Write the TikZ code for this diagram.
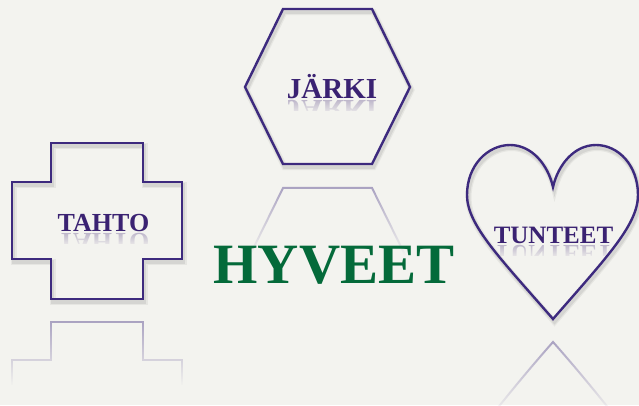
\documentclass[tikz,border=0pt]{standalone}
\usepackage{fontspec}
\setmainfont{Liberation Serif}
\usetikzlibrary{fadings}
\definecolor{bg}{HTML}{F3F3EF}
\definecolor{lin}{HTML}{3D2A7E}
\definecolor{txt}{HTML}{3A2272}
\definecolor{grn}{HTML}{046A3A}
\tikzfading[name=fadeout, top color=transparent!0, bottom color=transparent!100]
\tikzfading[name=fadein, top color=transparent!100, bottom color=transparent!0]
\begin{document}
\begin{tikzpicture}[x=1pt,y=-1pt,
  shapeline/.style={draw=lin, line width=2.4pt, line join=miter},
  shadowa/.style={draw=black, opacity=0.05, line width=6pt},
  shadowb/.style={draw=black, opacity=0.07, line width=3.5pt},
  refl/.style={draw=lin, opacity=0.4, line width=2pt},
  lbl/.style={text=txt, font=\bfseries\fontsize{#1}{#1}\selectfont, inner sep=0pt, anchor=base},
  mirror/.style={lbl=#1, opacity=0.3, transform shape, yscale=-1},
  cover/.style={fill=bg, path fading=fadein},
  solidcover/.style={fill=bg}]
\fill[bg] (0,0) rectangle (639,405);
\useasboundingbox (0,0) rectangle (639,405);

% text reflections
\node[mirror=29] (jarkiR) at (332,100) {JÄRKI};
\fill[cover] (283,99) rectangle (382,115);
\fill[solidcover] (283,111) rectangle (382,128);
\node[mirror=26] (tahtoR) at (103.5,233) {TAHTO};
\fill[cover] (54,232) rectangle (153,247);
\fill[solidcover] (54,243.5) rectangle (153,260);
\node[mirror=25] (tunteetR) at (553.5,245) {TUNTEET};
\fill[cover] (488,244) rectangle (619,259);
\fill[solidcover] (488,255.5) rectangle (619,272);

% shape reflections
\draw[refl, path fading=fadeout] (250,255) -- (283,188) -- (372,188) -- (405,255);
\draw[refl, path fading=fadeout] (12,385) -- (12,360) -- (51,360) -- (51,322) -- (143,322) -- (143,360) -- (182,360) -- (182,385);
\draw[refl, path fading=fadeout] (492,415) .. controls (512,390) and (530,368) .. (553,342) .. controls (576,368) and (594,390) .. (614,415);

% shadows
\foreach \s in {shadowa,shadowb}{
  \begin{scope}[shift={(1.5,3)}]
  \draw[\s] (283,9) -- (372,9) -- (410,87) -- (372,164) -- (283,164) -- (245,87) -- cycle;
  \draw[\s] (51,143) -- (143,143) -- (143,182) -- (182,182) -- (182,259) -- (143,259) -- (143,299) -- (51,299) -- (51,259) -- (12,259) -- (12,182) -- (51,182) -- cycle;
  \draw[\s] (553,319) .. controls (500,258) and (467,225) .. (467,195) .. controls (467,165) and (488,145) .. (510,145) .. controls (532,145) and (548,165) .. (553,187) .. controls (558,165) and (574,145) .. (596,145) .. controls (618,145) and (638,165) .. (638,195) .. controls (638,225) and (606,258) .. (553,319) -- cycle;
  \end{scope}
}

% shapes
\draw[shapeline] (283,9) -- (372,9) -- (410,87) -- (372,164) -- (283,164) -- (245,87) -- cycle;
\draw[shapeline] (51,143) -- (143,143) -- (143,182) -- (182,182) -- (182,259) -- (143,259) -- (143,299) -- (51,299) -- (51,259) -- (12,259) -- (12,182) -- (51,182) -- cycle;
\draw[shapeline] (553,319) .. controls (500,258) and (467,225) .. (467,195) .. controls (467,165) and (488,145) .. (510,145) .. controls (532,145) and (548,165) .. (553,187) .. controls (558,165) and (574,145) .. (596,145) .. controls (618,145) and (638,165) .. (638,195) .. controls (638,225) and (606,258) .. (553,319) -- cycle;

% labels
\node[lbl=29] (jarki) at (332,98.5) {JÄRKI};
\node[lbl=26] (tahto) at (103.5,231.5) {TAHTO};
\node[lbl=25] (tunteet) at (553.5,243) {TUNTEET};
\node[text=grn, font=\bfseries\fontsize{57}{57}\selectfont, inner sep=0pt, anchor=base] (hyveet) at (334,283) {HYVEET};
\end{tikzpicture}
\end{document}
